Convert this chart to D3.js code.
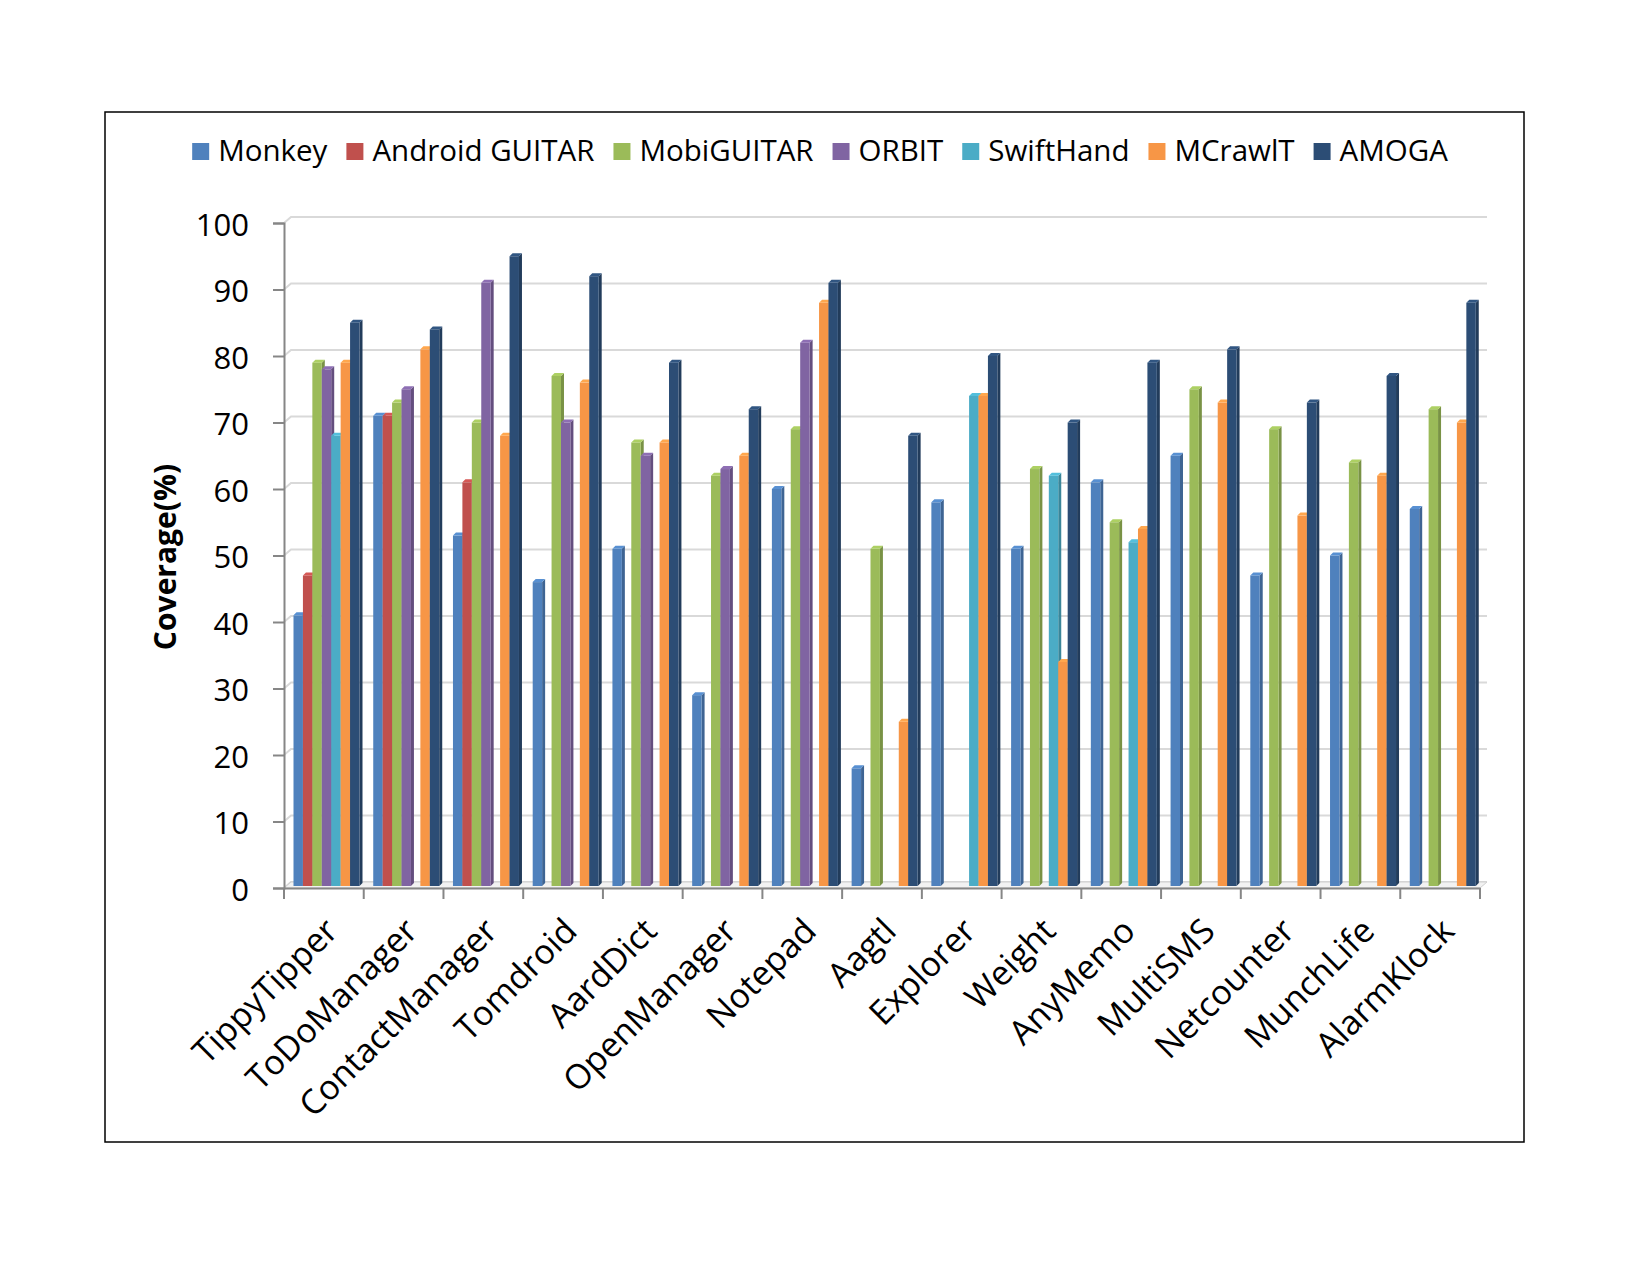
<!DOCTYPE html>
<html>
<head>
<meta charset="utf-8">
<script src="https://cdn.jsdelivr.net/npm/d3@7"></script>
<style>
  body { margin: 0; background: #fff; }
  svg { display: block; font-family: 'Open Sans', sans-serif; }
</style>
</head>
<body>
<svg id="chart" width="1650" height="1275"></svg>
<script>
const categories = ['TippyTipper', 'ToDoManager', 'ContactManager', 'Tomdroid', 'AardDict',
  'OpenManager', 'Notepad', 'Aagtl', 'Explorer', 'Weight', 'AnyMemo', 'MultiSMS',
  'Netcounter', 'MunchLife', 'AlarmKlock']

const seriesNames = ['Monkey', 'Android GUITAR', 'MobiGUITAR', 'ORBIT', 'SwiftHand', 'MCrawlT', 'AMOGA']
const seriesColors = ['#4f81bd', '#c0504d', '#9bbb59', '#8064a2', '#4bacc6', '#f79646', '#2c4d75']

const monkey = [41, 71, 53, 46, 51, 29, 60, 18, 58, 51, 61, 65, 47, 50, 57]
const androidGuitar = [47, 71, 61, null, null, null, null, null, null, null, null, null, null, null, null]
const mobiGuitar = [79, 73, 70, 77, 67, 62, 69, 51, null, 63, 55, 75, 69, 64, 72]
const orbit = [78, 75, 91, 70, 65, 63, 82, null, null, null, null, null, null, null, null]
const swiftHand = [68, null, null, null, null, null, null, null, 74, 62, 52, null, null, null, null]
const mCrawlT = [79, 81, 68, 76, 67, 65, 88, 25, 74, 34, 54, 73, 56, 62, 70]
const amoga = [85, 84, 95, 92, 79, 72, 91, 68, 80, 70, 79, 81, 73, 77, 88]

const yTicks = [0, 10, 20, 30, 40, 50, 60, 70, 80, 90, 100]

const seriesValues = [monkey, androidGuitar, mobiGuitar, orbit, swiftHand, mCrawlT, amoga]

const svg = d3.select('#chart')

// depth offset of the back wall (3d look)
const depth = { x: 7, y: -6 }
const barDepth = 3

const x = d3.scaleBand()
  .domain(categories)
  .range([284, 1480])

const xInner = d3.scaleBand()
  .domain(seriesNames)
  .range([9.5, 75.5])

const y = d3.scaleLinear()
  .domain([0, 100])
  .range([888, 223])

const yBack = v => y(v) + depth.y

// outer frame
svg.append('rect')
  .attr('x', 105)
  .attr('y', 112)
  .attr('width', 1419)
  .attr('height', 1030)
  .attr('fill', 'none')
  .attr('stroke', '#000')
  .attr('stroke-width', 1.5)

// back wall gridlines
const grid = svg.append('g')
  .attr('stroke', '#d9d9d9')
  .attr('stroke-width', 2)
  .attr('fill', 'none')

grid.selectAll('path')
  .data(yTicks)
  .enter().append('path')
  .attr('d', d => `M${x.range()[0]},${y(d)} L${x.range()[0] + depth.x},${yBack(d)} L${x.range()[1] + depth.x},${yBack(d)}`)

// floor
svg.append('path')
  .attr('d', `M${x.range()[0]},${y(0)} L${x.range()[0] + depth.x},${yBack(0)} L${x.range()[1] + depth.x},${yBack(0)} L${x.range()[1]},${y(0)} Z`)
  .attr('fill', '#f2f2f2')
  .attr('stroke', '#d0d0d0')
  .attr('stroke-width', 1)

// bars
const bars = []
categories.forEach((cat, i) => {
  seriesNames.forEach((name, j) => {
    const value = seriesValues[j][i]
    if (value !== null) bars.push({ cat, name, value, color: seriesColors[j] })
  })
})

const barGroup = svg.append('g')
  .selectAll('g')
  .data(bars)
  .enter().append('g')

const bw = xInner.bandwidth()
const bottom = y(0) - 2

barGroup.append('path')
  .attr('d', d => {
    const x0 = x(d.cat) + xInner(d.name) + bw
    const top = y(d.value)
    return `M${x0},${top} L${x0 + barDepth},${top - barDepth} L${x0 + barDepth},${bottom - barDepth} L${x0},${bottom} Z`
  })
  .attr('fill', d => d3.color(d.color).darker(0.7))

barGroup.append('rect')
  .attr('x', d => x(d.cat) + xInner(d.name))
  .attr('y', d => y(d.value))
  .attr('width', bw)
  .attr('height', d => bottom - y(d.value))
  .attr('fill', d => d.color)

barGroup.append('path')
  .attr('d', d => {
    const x0 = x(d.cat) + xInner(d.name)
    const top = y(d.value)
    return `M${x0},${top} L${x0 + barDepth},${top - barDepth} L${x0 + bw + barDepth},${top - barDepth} L${x0 + bw},${top} Z`
  })
  .attr('fill', d => d3.color(d.color).brighter(0.3))

// y axis
const yAxis = svg.append('g')
  .attr('transform', `translate(${x.range()[0]},0)`)
  .call(d3.axisLeft(y).tickValues(yTicks).tickSize(11).tickPadding(24))

yAxis.select('.domain')
  .attr('stroke', '#868686')
  .attr('stroke-width', 2)
yAxis.selectAll('.tick line')
  .attr('stroke', '#868686')
  .attr('stroke-width', 2)
yAxis.selectAll('.tick text')
  .attr('font-size', 31)
  .attr('font-family', "'Open Sans', sans-serif")
  .attr('fill', '#000')
  .attr('dy', '0.40em')

svg.append('text')
  .text('Coverage(%)')
  .attr('transform', 'translate(176,557) rotate(-90)')
  .attr('text-anchor', 'middle')
  .attr('font-size', 30)
  .attr('font-weight', 'bold')

// x axis
const xAxis = svg.append('g')
  .attr('transform', `translate(0,${y(0)})`)
  .call(d3.axisBottom(x).tickSize(0).tickFormat(''))

xAxis.select('.domain')
  .attr('stroke', '#868686')
  .attr('stroke-width', 2)

svg.append('g')
  .attr('stroke', '#868686')
  .attr('stroke-width', 2)
  .selectAll('line')
  .data(categories.concat(['end']))
  .enter().append('line')
  .attr('x1', (d, i) => i < categories.length ? x(d) : x.range()[1])
  .attr('x2', (d, i) => i < categories.length ? x(d) : x.range()[1])
  .attr('y1', y(0))
  .attr('y2', y(0) + 11)

svg.append('g')
  .selectAll('text')
  .data(categories)
  .enter().append('text')
  .text(d => d)
  .attr('text-anchor', 'end')
  .attr('font-size', 34)
  .attr('transform', d => `translate(${x(d) + x.bandwidth() / 2 + 16},${y(0) + 45}) rotate(-45)`)

// legend
const legend = svg.append('g')
  .attr('transform', 'translate(0,161)')

let lx = 0
seriesNames.forEach((name, i) => {
  const g = legend.append('g')
  g.append('rect')
    .attr('y', -18)
    .attr('width', 17)
    .attr('height', 17)
    .attr('fill', seriesColors[i])
  const t = g.append('text')
    .text(name)
    .attr('x', 26)
    .attr('font-size', 29.5)
  const w = 26 + t.node().getComputedTextLength()
  g.attr('transform', `translate(${lx},0)`)
  lx += w + 19
})
const legendWidth = lx - 19
legend.attr('transform', `translate(${820 - legendWidth / 2},161)`)
</script>
</body>
</html>
